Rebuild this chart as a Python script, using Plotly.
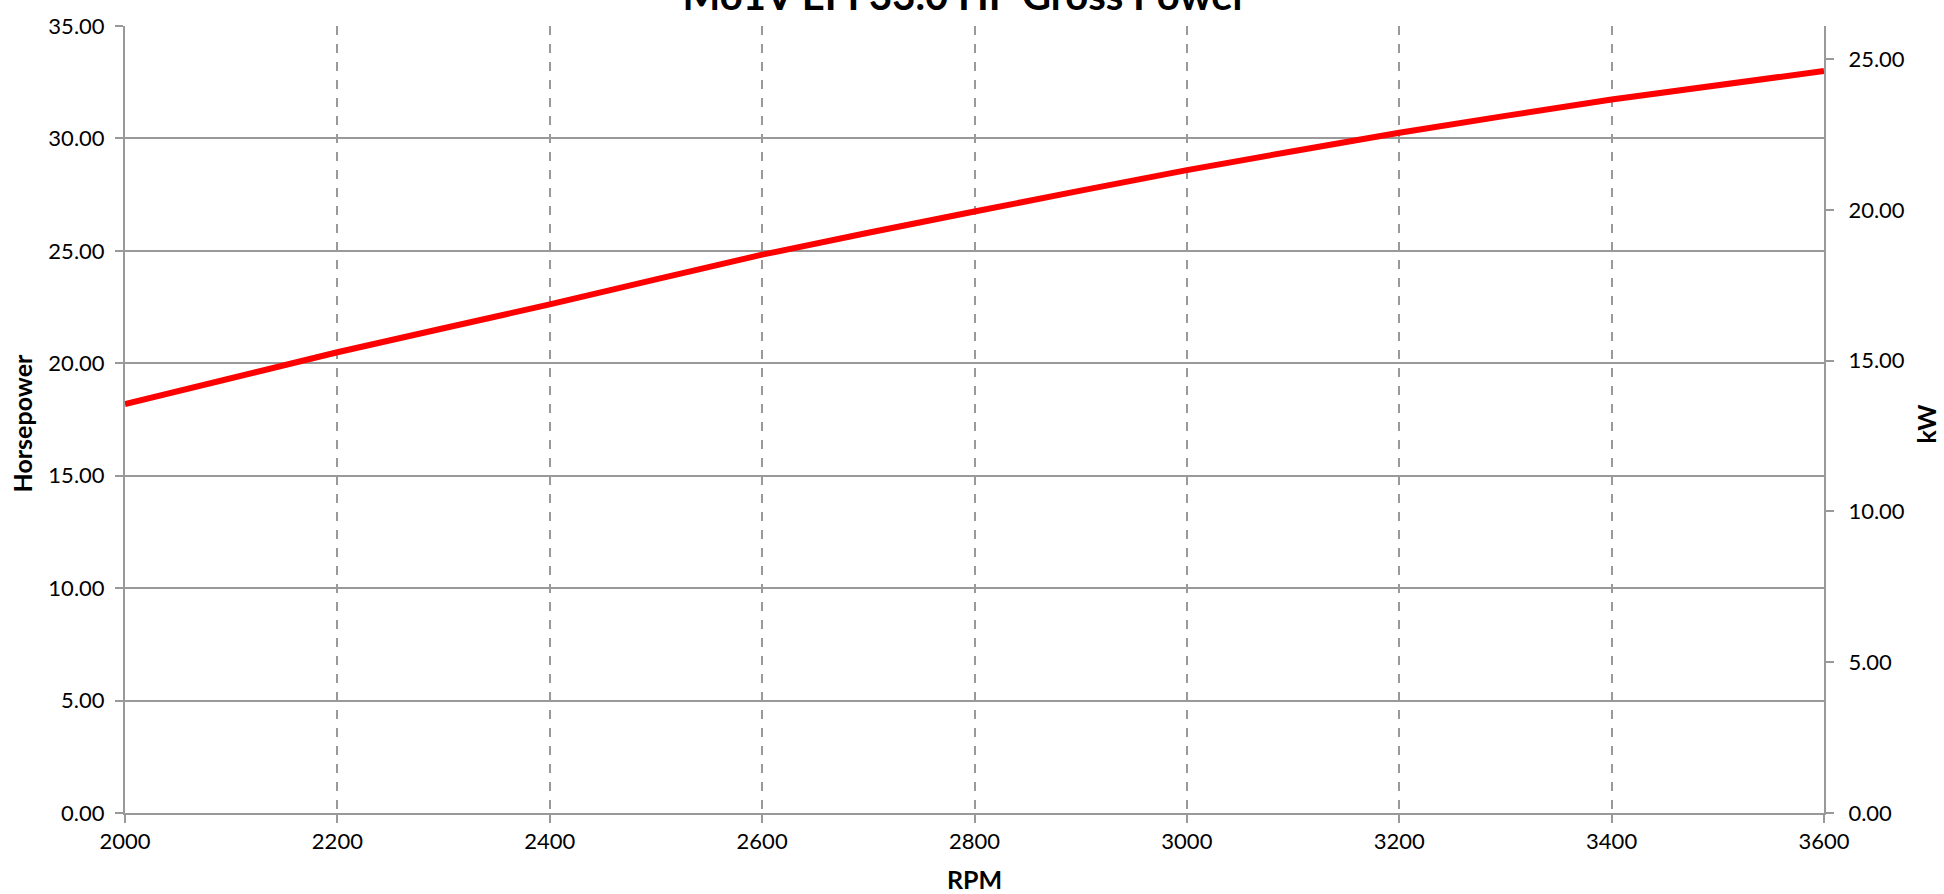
import plotly.graph_objects as go

rpm = [2000, 2200, 2400, 2600, 2800, 3000, 3200, 3400, 3600]
horsepower = [18.18, 20.49, 22.62, 24.83, 26.75, 28.59, 30.25, 31.73, 33.00]
hp_to_kw = 0.7457
kw = [round(h * hp_to_kw, 3) for h in horsepower]

title_text = "Mo1V EFI 33.0 HP Gross Power"
x_ticks = [2000, 2200, 2400, 2600, 2800, 3000, 3200, 3400, 3600]
x_title = "RPM"
y_title = "Horsepower"
y2_title = "kW"

font_family = "Lato, 'Open Sans', sans-serif"
grid_col = "#999999"

fig = go.Figure()
fig.add_trace(go.Scatter(
    x=rpm, y=horsepower, mode="lines",
    line=dict(color="#ff0000", width=6, shape="spline", smoothing=0.6),
    showlegend=False, name="Horsepower"))
fig.add_trace(go.Scatter(
    x=rpm, y=kw, mode="lines", yaxis="y2",
    line=dict(color="rgba(0,0,0,0)", width=0),
    showlegend=False, hoverinfo="skip", name="kW"))

axis_common = dict(
    showline=True, linecolor=grid_col, linewidth=2,
    ticks="outside", ticklen=8, tickcolor=grid_col, tickwidth=2,
    tickfont=dict(size=22), zeroline=False, ticklabeloverflow="allow")

fig.update_layout(
    width=1944, height=894,
    paper_bgcolor="white", plot_bgcolor="white",
    margin=dict(l=125, r=120, t=21, b=81),
    font=dict(family=font_family, color="black", size=22),
    title=dict(text="<b>" + title_text + "</b>", x=0.4964, xanchor="center",
               y=0.9888, yanchor="bottom", yref="container",
               font=dict(size=40, family=font_family, color="black")),
    xaxis=dict(
        range=[2000, 3600], tickvals=x_ticks, ticktext=[str(v) for v in x_ticks],
        showgrid=True, gridcolor=grid_col, griddash="dash", gridwidth=1.5,
        **axis_common),
    yaxis=dict(
        range=[0, 35], dtick=5, tickformat=".2f",
        showgrid=True, gridcolor=grid_col, gridwidth=1.5,
        ticklabelstandoff=6, **axis_common),
    yaxis2=dict(
        range=[0, 35 * hp_to_kw], dtick=5, tickformat=".2f",
        overlaying="y", side="right", showgrid=False,
        ticklabelstandoff=10, **axis_common),
    annotations=[
        dict(text="<b>" + x_title + "</b>", xref="paper", yref="paper",
             x=0.5, y=0, xanchor="center", yanchor="middle", yshift=-66,
             showarrow=False, font=dict(size=25)),
        dict(text="<b>" + y_title + "</b>", xref="paper", yref="paper",
             x=0, y=0.495, xanchor="center", yanchor="middle", xshift=-103,
             textangle=-90, showarrow=False, font=dict(size=25)),
        dict(text="<b>" + y2_title + "</b>", xref="paper", yref="paper",
             x=1, y=0.495, xanchor="center", yanchor="middle", xshift=102,
             textangle=-90, showarrow=False, font=dict(size=25)),
    ],
)

fig.write_html(
    "out.html",
    config={"displayModeBar": False},
    post_script="document.body.style.margin='0';document.body.style.overflow='hidden';")
